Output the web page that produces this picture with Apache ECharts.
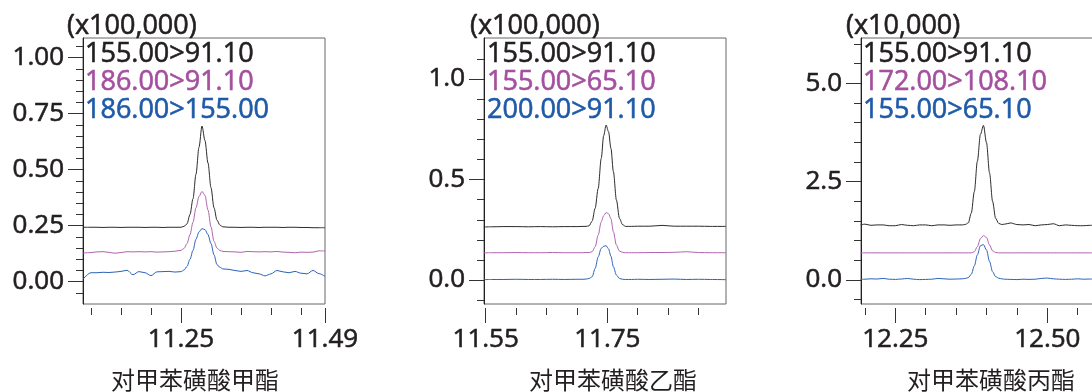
<!DOCTYPE html>
<html><head><meta charset="utf-8">
<script src="https://cdn.jsdelivr.net/npm/echarts@6/dist/echarts.min.js"></script>
<style>html,body{margin:0;padding:0;background:#fff;}#c{width:1092px;height:392px;}</style>
</head><body><div id="c"></div>
<script>
// ---------- Panel 1: 对甲苯磺酸甲酯 ----------
const time1 = [11.087, 11.10, 11.11, 11.12, 11.13, 11.14, 11.15, 11.16, 11.17, 11.18, 11.19, 11.20, 11.21, 11.22, 11.23, 11.24,
  11.25, 11.255, 11.26, 11.265, 11.27, 11.275, 11.28, 11.285, 11.29, 11.295, 11.30, 11.305, 11.31, 11.315, 11.32,
  11.33, 11.34, 11.35, 11.36, 11.37, 11.38, 11.39, 11.40, 11.41, 11.42, 11.43, 11.44, 11.45, 11.46, 11.47, 11.48, 11.49];
const black1 = [0.243, 0.243, 0.243, 0.242, 0.243, 0.243, 0.242, 0.243, 0.243, 0.243, 0.242, 0.243, 0.243, 0.242, 0.243, 0.243,
  0.243, 0.247, 0.258, 0.30, 0.37, 0.48, 0.60, 0.695, 0.63, 0.53, 0.42, 0.33, 0.275, 0.252, 0.245,
  0.243, 0.243, 0.242, 0.243, 0.243, 0.242, 0.243, 0.243, 0.243, 0.242, 0.243, 0.243, 0.242, 0.242, 0.241, 0.241, 0.241];
const magenta1 = [0.128, 0.130, 0.133, 0.134, 0.131, 0.127, 0.130, 0.134, 0.133, 0.134, 0.133, 0.134, 0.132, 0.133, 0.134, 0.136,
  0.140, 0.148, 0.170, 0.21, 0.265, 0.33, 0.38, 0.403, 0.385, 0.32, 0.245, 0.18, 0.150, 0.139, 0.135,
  0.134, 0.133, 0.131, 0.135, 0.134, 0.133, 0.134, 0.133, 0.135, 0.132, 0.131, 0.129, 0.132, 0.131, 0.132, 0.138, 0.137];
const blue1 = [0.012, 0.040, 0.040, 0.042, 0.041, 0.043, 0.046, 0.051, 0.031, 0.045, 0.040, 0.027, 0.044, 0.045, 0.046, 0.043,
  0.045, 0.052, 0.068, 0.10, 0.14, 0.19, 0.222, 0.237, 0.232, 0.21, 0.17, 0.12, 0.076, 0.064, 0.057,
  0.055, 0.050, 0.046, 0.050, 0.040, 0.035, 0.026, 0.035, 0.050, 0.044, 0.040, 0.046, 0.038, 0.035, 0.050, 0.036, 0.024];
const names1 = ['155.00>91.10', '186.00>91.10', '186.00>155.00'];
const unit1 = '(x100,000)';
const title1 = '对甲苯磺酸甲酯';
const yMajor1 = [0, 0.25, 0.5, 0.75, 1.0];
const yMinor1 = [-0.05, 0.05, 0.10, 0.15, 0.20, 0.30, 0.35, 0.40, 0.45, 0.55, 0.60, 0.65, 0.70, 0.80, 0.85, 0.90, 0.95, 1.05];
const xMajor1 = [11.25, 11.49];
const xMinor1 = [11.10, 11.15, 11.20, 11.30, 11.35, 11.40, 11.45];

// ---------- Panel 2: 对甲苯磺酸乙酯 ----------
const time2 = [11.547, 11.56, 11.58, 11.60, 11.62, 11.64, 11.66, 11.68, 11.70, 11.71, 11.715,
  11.72, 11.725, 11.73, 11.735, 11.74, 11.744, 11.748, 11.752, 11.756, 11.76, 11.765, 11.77, 11.775, 11.78,
  11.79, 11.80, 11.82, 11.84, 11.86, 11.88, 11.90, 11.92, 11.945];
const black2 = [0.264, 0.265, 0.266, 0.266, 0.265, 0.266, 0.265, 0.266, 0.266, 0.267, 0.267,
  0.270, 0.293, 0.357, 0.456, 0.605, 0.718, 0.771, 0.738, 0.655, 0.539, 0.398, 0.307, 0.276, 0.267,
  0.267, 0.268, 0.268, 0.272, 0.268, 0.268, 0.268, 0.267, 0.267];
const magenta2 = [0.135, 0.136, 0.136, 0.137, 0.136, 0.136, 0.137, 0.136, 0.136, 0.136, 0.137,
  0.137, 0.141, 0.166, 0.224, 0.290, 0.320, 0.336, 0.330, 0.305, 0.240, 0.174, 0.144, 0.138, 0.136,
  0.136, 0.136, 0.137, 0.137, 0.138, 0.141, 0.137, 0.136, 0.136];
const blue2 = [0.002, 0.003, 0.003, 0.004, 0.003, 0.003, 0.004, 0.003, 0.004, 0.004, 0.005,
  0.008, 0.016, 0.058, 0.116, 0.158, 0.168, 0.171, 0.155, 0.118, 0.066, 0.025, 0.008, 0.004, 0.003,
  0.003, 0.004, 0.003, 0.004, 0.005, 0.003, 0.004, 0.003, 0.002];
const names2 = ['155.00>91.10', '155.00>65.10', '200.00>91.10'];
const unit2 = '(x100,000)';
const title2 = '对甲苯磺酸乙酯';
const yMajor2 = [0, 0.5, 1.0];
const yMinor2 = [-0.1, 0.1, 0.2, 0.3, 0.4, 0.6, 0.7, 0.8, 0.9, 1.1];
const xMajor2 = [11.55, 11.75];
const xMinor2 = [11.60, 11.65, 11.70, 11.80, 11.85, 11.90];

// ---------- Panel 3: 对甲苯磺酸丙酯 ----------
const time3 = [12.193, 12.20, 12.21, 12.22, 12.23, 12.24, 12.25, 12.26, 12.27, 12.28, 12.29, 12.30, 12.31, 12.32, 12.33, 12.34, 12.35, 12.36,
  12.365, 12.37, 12.375, 12.38, 12.385, 12.39, 12.395, 12.40, 12.405, 12.41, 12.415, 12.42, 12.425, 12.43,
  12.44, 12.45, 12.46, 12.47, 12.48, 12.49, 12.50, 12.51, 12.52, 12.53, 12.54, 12.55, 12.56, 12.57, 12.58];
const black3 = [1.40, 1.42, 1.39, 1.40, 1.40, 1.38, 1.38, 1.41, 1.39, 1.38, 1.40, 1.40, 1.38, 1.40, 1.40, 1.39, 1.40, 1.40,
  1.41, 1.45, 1.70, 2.25, 3.02, 3.70, 3.93, 3.49, 2.72, 2.00, 1.57, 1.44, 1.41, 1.42,
  1.45, 1.41, 1.40, 1.41, 1.38, 1.40, 1.41, 1.43, 1.38, 1.40, 1.39, 1.38, 1.38, 1.39, 1.39];
const magenta3 = [0.69, 0.69, 0.69, 0.69, 0.69, 0.69, 0.69, 0.69, 0.69, 0.69, 0.69, 0.69, 0.69, 0.69, 0.69, 0.69, 0.69, 0.69,
  0.69, 0.69, 0.69, 0.72, 0.85, 1.05, 1.13, 1.08, 0.89, 0.74, 0.70, 0.69, 0.69, 0.69,
  0.69, 0.69, 0.69, 0.69, 0.69, 0.69, 0.69, 0.69, 0.69, 0.69, 0.69, 0.69, 0.69, 0.69, 0.69];
const blue3 = [0.015, 0.02, 0.03, 0.025, 0.04, 0.02, 0.015, 0.025, 0.04, 0.02, 0.01, 0.015, 0.02, 0.04, 0.03, 0.02, 0.025, 0.03,
  0.04, 0.06, 0.145, 0.36, 0.64, 0.87, 0.90, 0.765, 0.47, 0.21, 0.085, 0.045, 0.03, 0.02,
  0.015, 0.01, 0.02, 0.015, 0.02, 0.04, 0.05, 0.03, 0.02, 0.015, 0.02, 0.03, 0.02, 0.025, 0.02];
const names3 = ['155.00>91.10', '172.00>108.10', '155.00>65.10'];
const unit3 = '(x10,000)';
const title3 = '对甲苯磺酸丙酯';
const yMajor3 = [0, 2.5, 5.0];
const yMinor3 = [-0.5, 0.5, 1.0, 1.5, 2.0, 3.0, 3.5, 4.0, 4.5, 5.5, 6.0];
const xMajor3 = [12.25, 12.50];
const xMinor3 = [12.20, 12.30, 12.35, 12.40, 12.45, 12.55];

// ---------- styling / layout ----------
const FONT = "'Open Sans', 'Noto Sans', sans-serif";
const CJK = "'Noto Sans CJK SC', sans-serif";
const TEXT = '#231f20';
const STROKE = 0.6;
const textColors = ['#231f20', '#a4509f', '#1e5aa8'];
const lineColors = ['#2b2b2b', '#b064b0', '#2a62bb'];

const panels = [
  { times: time1, vals: [black1, magenta1, blue1], names: names1, unit: unit1, title: title1,
    yMajor: yMajor1, yMinor: yMinor1, xMajor: xMajor1, xMinor: xMinor1, dec: 2,
    left: 83, width: 242, xr: [11.0867, 11.49], yr: [-0.0996, 1.0879],
    legendLeft: 80, unitX: 67, titleX: 195 },
  { times: time2, vals: [black2, magenta2, blue2], names: names2, unit: unit2, title: title2,
    yMajor: yMajor2, yMinor: yMinor2, xMajor: xMajor2, xMinor: xMinor2, dec: 1,
    left: 484, width: 242, xr: [11.5472, 11.9452], yr: [-0.119, 1.204],
    legendLeft: 482, unitX: 470, titleX: 613 },
  { times: time3, vals: [black3, magenta3, blue3], names: names3, unit: unit3, title: title3,
    yMajor: yMajor3, yMinor: yMinor3, xMajor: xMajor3, xMinor: xMinor3, dec: 1,
    left: 861, width: 260, xr: [12.1936, 12.6212], yr: [-0.610, 6.151],
    legendLeft: 858, unitX: 846, titleX: 991 }
];

const grid = [], xAxis = [], yAxis = [], series = [], legend = [], graphic = [];
panels.forEach((p, i) => {
  grid.push({ left: p.left, top: 38, width: p.width, height: 266, show: true,
    outerBoundsMode: 'none', containLabel: false,
    borderColor: '#666', borderWidth: 1, backgroundColor: 'transparent' });
  const xBase = { gridIndex: i, type: 'value', min: p.xr[0], max: p.xr[1], position: 'bottom', offset: 4,
    axisLine: { show: false, onZero: false }, splitLine: { show: false } };
  xAxis.push(Object.assign({}, xBase, {
    axisTick: { show: true, customValues: p.xMajor, length: 15, lineStyle: { color: '#333', width: 1 } },
    axisLabel: { show: true, customValues: p.xMajor, formatter: v => Number(v).toFixed(2), fontSize: 26,
      fontFamily: FONT, color: TEXT, textBorderColor: TEXT, textBorderWidth: STROKE, margin: 19, hideOverlap: false }
  }));
  xAxis.push(Object.assign({}, xBase, {
    axisTick: { show: true, customValues: p.xMinor, length: 7, lineStyle: { color: '#333', width: 1 } },
    axisLabel: { show: false }
  }));
  const yBase = { gridIndex: i, type: 'value', min: p.yr[0], max: p.yr[1], position: 'left', offset: 0,
    splitLine: { show: false } };
  yAxis.push(Object.assign({}, yBase, {
    axisLine: { show: true, onZero: false, lineStyle: { color: '#231f20', width: 1 } },
    axisTick: { show: true, customValues: p.yMajor, length: 15, lineStyle: { color: '#333', width: 1 } },
    axisLabel: { show: true, customValues: p.yMajor, formatter: v => Number(v).toFixed(p.dec), fontSize: 26,
      fontFamily: FONT, color: TEXT, textBorderColor: TEXT, textBorderWidth: STROKE, margin: 19 }
  }));
  yAxis.push(Object.assign({}, yBase, {
    axisLine: { show: false, onZero: false },
    axisTick: { show: true, customValues: p.yMinor, length: 7, lineStyle: { color: '#333', width: 1 } },
    axisLabel: { show: false }
  }));
  p.vals.forEach((vals, k) => {
    series.push({
      type: 'line', name: p.names[k], xAxisIndex: 2 * i, yAxisIndex: 2 * i,
      data: p.times.map((t, j) => [t, vals[j]]),
      showSymbol: false, symbol: 'none', smooth: 0.3, smoothMonotone: 'x',
      lineStyle: { width: 1, color: lineColors[k] }, itemStyle: { color: lineColors[k] },
      silent: true, animation: false, z: 3 - k
    });
  });
  legend.push({
    orient: 'vertical', left: p.legendLeft, top: 41, padding: 0, itemGap: 0,
    itemWidth: 0, itemHeight: 14, icon: 'none', selectedMode: false,
    textStyle: { fontFamily: FONT, fontSize: 27, lineHeight: 27 },
    data: p.names.map((n, k) => ({ name: n, icon: 'none',
      textStyle: { color: textColors[k], textBorderColor: textColors[k], textBorderWidth: STROKE } }))
  });
  graphic.push({ type: 'text', x: p.unitX, y: 26, silent: true,
    style: { text: p.unit, fontFamily: FONT, fontSize: 27, fill: TEXT, stroke: TEXT, lineWidth: STROKE,
      align: 'left', verticalAlign: 'middle' } });
  graphic.push({ type: 'text', x: p.titleX, y: 380, silent: true,
    style: { text: p.title, fontFamily: CJK, fontSize: 24, fill: TEXT, align: 'center', verticalAlign: 'middle' } });
});

const chart = echarts.init(document.getElementById('c'), null, { renderer: 'canvas', width: 1092, height: 392 });
chart.setOption({
  backgroundColor: '#ffffff',
  animation: false,
  grid, xAxis, yAxis, series, legend, graphic
});
</script>
</body></html>
